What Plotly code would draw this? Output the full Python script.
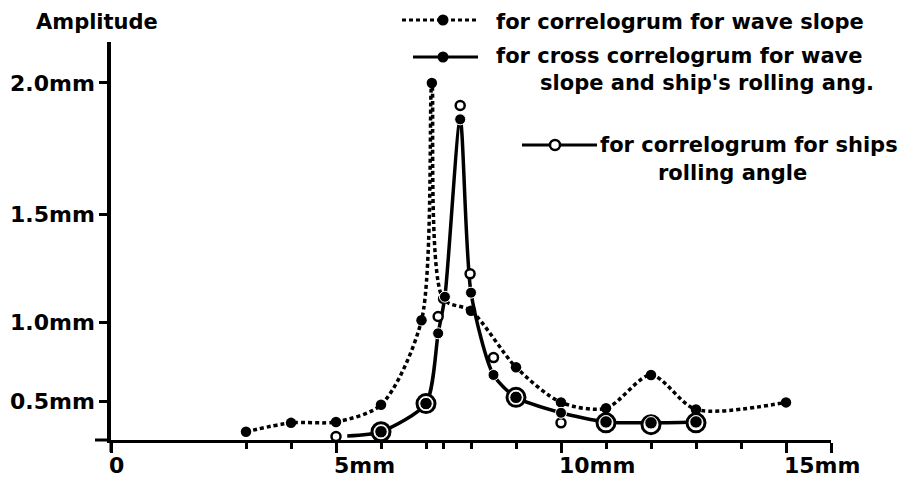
import numpy as np
import plotly.graph_objects as go

# ---------------- data ----------------
# correlogram for wave slope (dotted line, filled dots)
slope_x = [3, 4, 5, 6, 6.9, 7.13, 7.38, 8.0, 9, 10, 11, 12, 13, 15]
slope_amp = [0.19, 0.30, 0.31, 0.47, 1.01, 2.00, 1.12, 1.06, 0.74, 0.49, 0.44, 0.69, 0.43, 0.49]

# cross correlogram for wave slope and ship's rolling angle (solid line, filled dots)
cross_x = [5.25, 6, 7, 7.27, 7.42, 7.76, 8.0, 8.5, 9, 10, 11, 12, 13]
cross_amp = [0.12, 0.19, 0.48, 0.94, 1.13, 1.87, 1.15, 0.69, 0.53, 0.40, 0.31, 0.30, 0.31]

# correlogram for ship's rolling angle (open circles)
roll_x = [5, 6, 7, 7.27, 7.76, 7.98, 8.5, 9, 10, 11, 12, 13]
roll_amp = [0.11, 0.19, 0.48, 1.03, 1.92, 1.24, 0.80, 0.53, 0.30, 0.30, 0.28, 0.30]

y_tick_amp = [0.5, 1.0, 1.5, 2.0]
y_tick_text = ["0.5mm", "1.0mm", "1.5mm", "2.0mm"]
x_tick_vals = [0, 5, 10, 15, 16]
x_tick_text = ["0", "5mm", "10mm", "15mm", ""]
x_minor_vals = [3, 4, 6, 7, 7.38, 8, 9, 11, 12, 13, 14]

# ---------------- vertical scale of the original drawing (power scale) ----------------
POW = 1.6


def yscale(a):
    return np.asarray(a, dtype=float) ** POW


Y_TOP = 3.379  # top of the drawn amplitude axis, in scaled units

# ---------------- layout helpers ----------------
W, H = 916, 485
OFF = 8  # the page body margin
L, R, T, B = 111, 831, 42, 440


def px(x):
    return (x - L) / (R - L)


def py(y):
    return (B - y) / (B - T)


FONT = "DejaVu Sans"
BLACK = "black"

fig = go.Figure()

fig.add_trace(go.Scatter(
    x=slope_x, y=yscale(slope_amp), mode="lines+markers",
    line=dict(color=BLACK, width=3.5, dash="4px,3px", shape="spline", smoothing=0.8),
    marker=dict(color=BLACK, size=10.5, opacity=1),
    name="for correlogrum for wave slope", showlegend=False, hoverinfo="skip"))

fig.add_trace(go.Scatter(
    x=cross_x, y=yscale(cross_amp), mode="lines",
    line=dict(color=BLACK, width=3.5, shape="spline", smoothing=0.7),
    name="for cross correlogrum for wave slope and ship's rolling ang.",
    showlegend=False, hoverinfo="skip"))

fig.add_trace(go.Scatter(
    x=roll_x, y=yscale(roll_amp), mode="markers",
    marker=dict(color="white", opacity=1, size=[9, 18, 18, 9, 9, 9, 9, 18, 9, 18, 18, 18],
                line=dict(color=BLACK, width=[2.5, 3, 3, 2.5, 2.5, 2.5, 2.5, 3, 2.5, 3, 3, 3])),
    name="for correlogrum for ships rolling angle", showlegend=False, hoverinfo="skip"))

fig.add_trace(go.Scatter(
    x=cross_x, y=yscale(cross_amp), mode="markers",
    marker=dict(color=BLACK, opacity=1, size=[0, 12.5, 12.5, 11, 11, 11, 11, 11, 12.5, 11, 12.5, 12.5, 12.5]),
    showlegend=False, hoverinfo="skip"))

shapes = []
# axis extensions (the small cross at the origin)
shapes.append(dict(type="line", xref="paper", yref="paper", x0=px(95), x1=px(111), y0=py(440), y1=py(440),
                   line=dict(color=BLACK, width=3)))
shapes.append(dict(type="line", xref="paper", yref="paper", x0=px(111), x1=px(111), y0=py(440), y1=py(452),
                   line=dict(color=BLACK, width=3)))


def circle(cx, cy, r, fill, lw):
    return dict(type="circle", xref="paper", yref="paper",
                x0=px(cx - r), x1=px(cx + r), y0=py(cy + r), y1=py(cy - r),
                fillcolor=fill, line=dict(color=BLACK, width=lw))


# manual legend keys
shapes.append(dict(type="line", xref="paper", yref="paper", x0=px(402), x1=px(478), y0=py(20), y1=py(20),
                   line=dict(color=BLACK, width=3, dash="4px,3px")))
shapes.append(circle(443, 20, 5.5, BLACK, 0))
shapes.append(dict(type="line", xref="paper", yref="paper", x0=px(413), x1=px(478), y0=py(57), y1=py(57),
                   line=dict(color=BLACK, width=3)))
shapes.append(circle(443, 57, 5.5, BLACK, 0))
shapes.append(dict(type="line", xref="paper", yref="paper", x0=px(522), x1=px(597), y0=py(145), y1=py(145),
                   line=dict(color=BLACK, width=3)))
shapes.append(circle(555, 145, 5, "white", 2.5))

TF = dict(family=FONT, size=22, color=BLACK, weight="bold")


def text(s, x, y, size=21):
    return dict(text=s, xref="paper", yref="paper", x=px(x - 4), y=py(y), xanchor="left", yanchor="middle",
                showarrow=False, font=dict(family=FONT, size=size, color=BLACK, weight="bold"))


annotations = [
    text("Amplitude", 38, 22),
    text("for correlogrum for wave slope", 498, 22),
    text("for cross correlogrum for wave", 498, 56),
    text("slope and ship's rolling ang.", 542, 83),
    text("for correlogrum for ships", 602, 145),
    text("rolling angle", 660, 173),
]

fig.update_layout(
    width=W - OFF, height=H - OFF,
    margin=dict(l=L - OFF, r=W - R, t=T - OFF, b=H - B, pad=0, autoexpand=False),
    paper_bgcolor="white", plot_bgcolor="white",
    shapes=shapes, annotations=annotations,
    xaxis=dict(range=[0, 16], showgrid=False, zeroline=False, showline=True, linecolor=BLACK, linewidth=3,
               automargin=False,
               tickmode="array", tickvals=x_tick_vals, ticktext=x_tick_text,
               ticks="outside", ticklen=10, tickwidth=3, tickcolor=BLACK,
               ticklabelposition="outside right", ticklabelshift=-5, ticklabelstandoff=4, tickfont=TF,
               minor=dict(tickmode="array", tickvals=x_minor_vals, ticks="outside", ticklen=6,
                          tickwidth=3, tickcolor=BLACK, showgrid=False)),
    yaxis=dict(range=[0, Y_TOP], showgrid=False, zeroline=False, showline=True, linecolor=BLACK, linewidth=3.5,
               automargin=False,
               tickmode="array", tickvals=yscale(y_tick_amp), ticktext=y_tick_text,
               ticks="outside", ticklen=8, tickwidth=3, tickcolor=BLACK, tickfont=TF),
    showlegend=False,
)

fig.write_html("out.html")
